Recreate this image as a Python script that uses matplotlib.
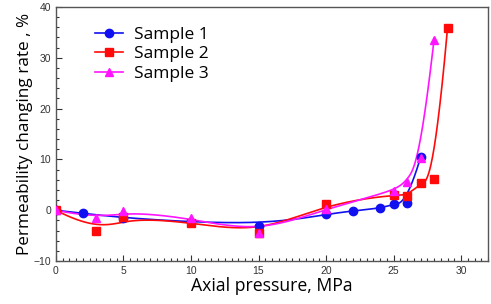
import numpy as np
import matplotlib
matplotlib.use("Agg")
import matplotlib.pyplot as plt
from matplotlib.ticker import MultipleLocator
from matplotlib.lines import Line2D

# Data
s1_x = [0, 2, 5, 15, 20, 22, 24, 25, 26, 27]
s1_y = [0.0, -0.6, -1.6, -3.0, -0.8, -0.1, 0.4, 1.2, 1.5, 10.4]
s2_x = [0, 3, 5, 10, 15, 20, 25, 26, 27, 28, 29]
s2_y = [0.0, -4.1, -1.3, -2.4, -4.5, 1.2, 3.1, 2.8, 5.4, 6.2, 35.9]
s3_x = [0, 3, 5, 10, 15, 20, 25, 26, 27, 28]
s3_y = [0.0, -1.6, -0.1, -1.6, -4.4, 0.3, 3.8, 5.6, 10.2, 33.6]
labels = ["Sample 1", "Sample 2", "Sample 3"]
colors = ["#1010f0", "#ff0a0a", "#ff14ff"]
markers = ["o", "s", "^"]


def bspline(xs, ys, k=3, n=500):
    P = np.column_stack([xs, ys]).astype(float)
    m = len(P)
    k = min(k, m - 1)
    inner = np.linspace(0, 1, m - k + 1)
    t = np.concatenate([np.zeros(k), inner, np.ones(k)])
    u = np.linspace(0, 1, n)
    u[-1] = 1 - 1e-12
    N = np.zeros((n, len(t) - 1))
    for i in range(len(t) - 1):
        N[:, i] = ((u >= t[i]) & (u < t[i + 1])).astype(float)
    for d in range(1, k + 1):
        Nn = np.zeros((n, len(t) - 1 - d))
        for i in range(len(t) - 1 - d):
            a = np.zeros(n)
            b = np.zeros(n)
            if t[i + d] != t[i]:
                a = (u - t[i]) / (t[i + d] - t[i]) * N[:, i]
            if t[i + d + 1] != t[i + 1]:
                b = (t[i + d + 1] - u) / (t[i + d + 1] - t[i + 1]) * N[:, i + 1]
            Nn[:, i] = a + b
        N = Nn
    C = N @ P
    return C[:, 0], C[:, 1]


fig = plt.figure(figsize=(4.91, 3.04), dpi=100)
ax = fig.add_axes([0.114, 0.141, 0.880, 0.836])

series = [(s1_x, s1_y), (s2_x, s2_y), (s3_x, s3_y)]
handles = []
for (xs, ys), c, mk, lb in zip(series, colors, markers, labels):
    cx, cy = bspline(xs, ys)
    ax.plot(cx, cy, color=c, lw=1.2, zorder=2)
    ax.plot(xs, ys, linestyle="none", marker=mk, color=c, ms=6, zorder=3)
    handles.append(Line2D([0], [0], color=c, lw=1.2, marker=mk, ms=6))

ax.set_xlim(0, 32)
ax.set_ylim(-10, 40)
ax.xaxis.set_major_locator(MultipleLocator(5))
ax.xaxis.set_minor_locator(MultipleLocator(0.5))
ax.yaxis.set_major_locator(MultipleLocator(10))
ax.yaxis.set_minor_locator(MultipleLocator(2))
ax.tick_params(which="both", direction="in", top=False, right=False,
               labelsize=7.5, colors="#333333", width=0.8)
ax.tick_params(which="major", length=4)
ax.tick_params(which="minor", length=2)
for lab in ax.get_xticklabels() + ax.get_yticklabels():
    lab.set_family("Liberation Sans")
for sp in ax.spines.values():
    sp.set_color("#555555")
    sp.set_linewidth(1.0)

ax.set_xlabel("Axial pressure, MPa", fontsize=12.7, family="Open Sans", labelpad=1)
ax.set_ylabel("Permeability changing rate , %", fontsize=12.3, family="Open Sans", labelpad=0)

ax.legend(handles, labels, loc="upper left", bbox_to_anchor=(0.055, 0.985),
          frameon=False, prop={"family": "Open Sans", "size": 12.5},
          handlelength=1.6, handletextpad=0.6, labelspacing=0.2)

fig.savefig("out.png", dpi=100)
